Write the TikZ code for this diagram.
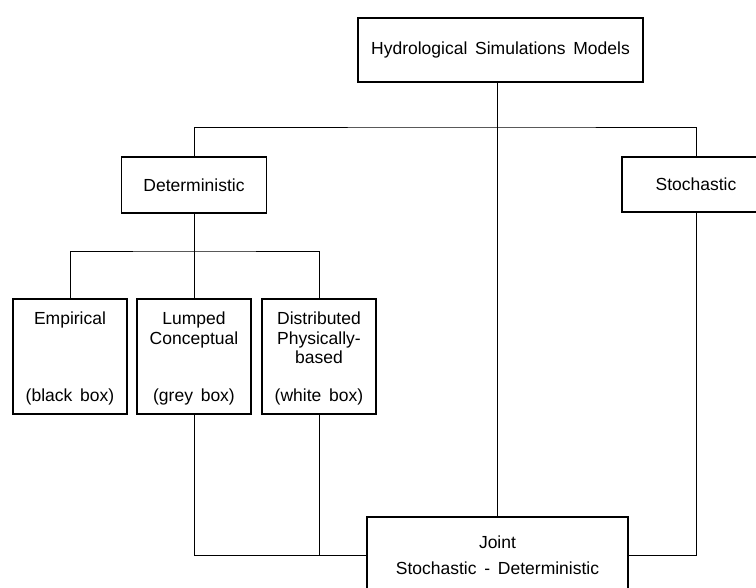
\documentclass[tikz,border=0pt]{standalone}
\usepackage{fontspec}
\setmainfont{Liberation Sans}[WordSpace=1.6]

\begin{document}
\begin{tikzpicture}[x=1pt,y=-1pt,
    box/.style={draw,line width=1.8pt,inner sep=0pt,align=center,
      font=\fontsize{17.5}{26}\selectfont},
    link/.style={line width=0.9pt},
    txt/.style={inner sep=0pt,align=center,font=\fontsize{17.5}{19.5}\selectfont}]
  \useasboundingbox (0,0) rectangle (756,588);

  % first level
  \node[box,minimum width=285pt,minimum height=64pt] (hsm) at (500.5,50)
    {Hydrological Simulations Models};
  \node[box,minimum width=145pt,minimum height=56pt] (det) at (194,185) {Deterministic};
  \node[box,minimum width=148pt,minimum height=55pt] (sto) at (696,184.5) {Stochastic};

  % deterministic kinds
  \foreach \n/\xx in {emp/70,lum/194,dis/319}{
    \node[box,minimum width=114pt,minimum height=115pt] (\n) at (\xx,356.5) {};
  }
  \node[txt,anchor=north] at ([yshift=-14pt]emp.north) {Empirical};
  \node[txt,anchor=north] at ([yshift=-14pt]lum.north) {Lumped\\Conceptual};
  \node[txt,anchor=north] at ([yshift=-14pt]dis.north) {Distributed\\Physically-\\based};
  \node[txt,anchor=base] at ([yshift=13pt]emp.south) {(black box)};
  \node[txt,anchor=base] at ([yshift=13pt]lum.south) {(grey box)};
  \node[txt,anchor=base] at ([yshift=13pt]dis.south) {(white box)};

  \node[box,minimum width=261pt,minimum height=76pt] (joint) at (497.5,555)
    {Joint\\Stochastic - Deterministic};

  \coordinate (top) at (497.5,127);
  \coordinate (split) at (194,251);

  \draw[link] (joint.north) -- (joint.north |- hsm.south);
  \draw[link] (det.north) |- (top) -| (sto.north);
  \draw[link] (det.south) -- (lum.north);
  \draw[link] (emp.north) |- (split) -| (dis.north);
  \draw[link] (lum.south) |- (joint.west);
  \draw[link] (dis.south) -- (dis.south |- joint.west);
  \draw[link] (sto.south) |- (joint.east);
\end{tikzpicture}
\end{document}
